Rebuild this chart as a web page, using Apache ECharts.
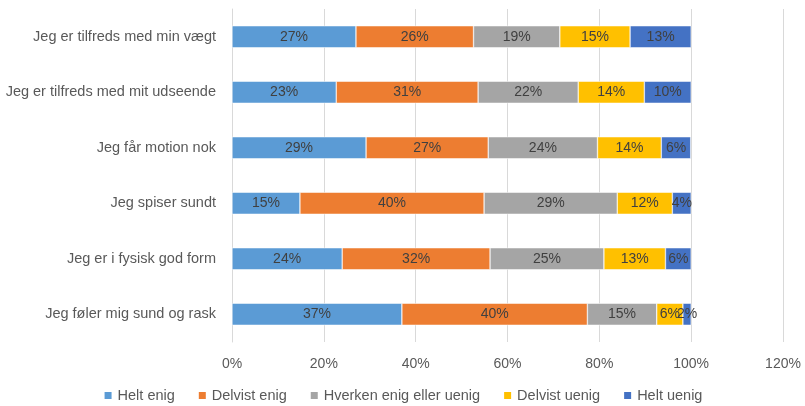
<!DOCTYPE html>
<html>
<head>
<meta charset="utf-8">
<script src="https://cdn.jsdelivr.net/npm/echarts@6/dist/echarts.min.js"></script>
<style>html,body{margin:0;padding:0;background:#fff;}#c{width:805px;height:406px;}</style>
</head>
<body>
<div id="c"></div>
<script>
var categories = ["Jeg er tilfreds med min vægt","Jeg er tilfreds med mit udseende","Jeg får motion nok","Jeg spiser sundt","Jeg er i fysisk god form","Jeg føler mig sund og rask"];
var seriesNames = ["Helt enig","Delvist enig","Hverken enig eller uenig","Delvist uenig","Helt uenig"];
var heltEnig = [27.0, 22.7, 29.2, 14.8, 24.0, 37.0];
var delvistEnig = [25.6, 30.9, 26.6, 40.1, 32.2, 40.4];
var hverken = [18.8, 21.8, 23.8, 29.0, 24.8, 15.1];
var delvistUenig = [15.3, 14.4, 13.9, 12.0, 13.4, 5.7];
var heltUenig = [13.3, 10.2, 6.4, 4.1, 5.6, 1.8];
var xTicks = [0, 20, 40, 60, 80, 100, 120];
var colors = ["#5B9BD5","#ED7D31","#A5A5A5","#FFC000","#4472C4"];
var allData = [heltEnig, delvistEnig, hverken, delvistUenig, heltUenig];
var font = "Liberation Sans";
var chart = echarts.init(document.getElementById('c'));
chart.setOption({
  animation: false,
  textStyle: {fontFamily: font},
  grid: {left: 232, right: 22, top: 9, bottom: 64, containLabel: false},
  legend: {
    top: 388, left: 'center', itemWidth: 9, itemHeight: 9, itemGap: 22, padding: 0,
    icon: 'rect',
    textStyle: {color: '#595959', fontSize: 14.5, fontFamily: font},
    data: seriesNames
  },
  xAxis: {
    type: 'value', min: xTicks[0], max: xTicks[xTicks.length-1], interval: 20,
    axisLine: {show: false}, axisTick: {show: false},
    splitLine: {lineStyle: {color: '#D9D9D9', width: 1}},
    axisLabel: {color: '#595959', fontSize: 14, margin: 15, formatter: '{value}%'}
  },
  yAxis: {
    type: 'category', data: categories, inverse: true,
    axisLine: {show: true, lineStyle: {color: '#D9D9D9'}}, axisTick: {show: false},
    axisLabel: {color: '#595959', fontSize: 14.5, margin: 16}
  },
  series: seriesNames.map(function(n, i){
    return {
      name: n, type: 'bar', stack: 'total', data: allData[i], barWidth: 22,
      itemStyle: {color: colors[i], borderColor: '#fff', borderWidth: 0.5},
      label: {show: true, position: 'inside', color: '#404040', fontSize: 14, fontFamily: font,
        formatter: function(p){ return Math.round(p.value) + '%'; }}
    };
  })
});
</script>
</body>
</html>
